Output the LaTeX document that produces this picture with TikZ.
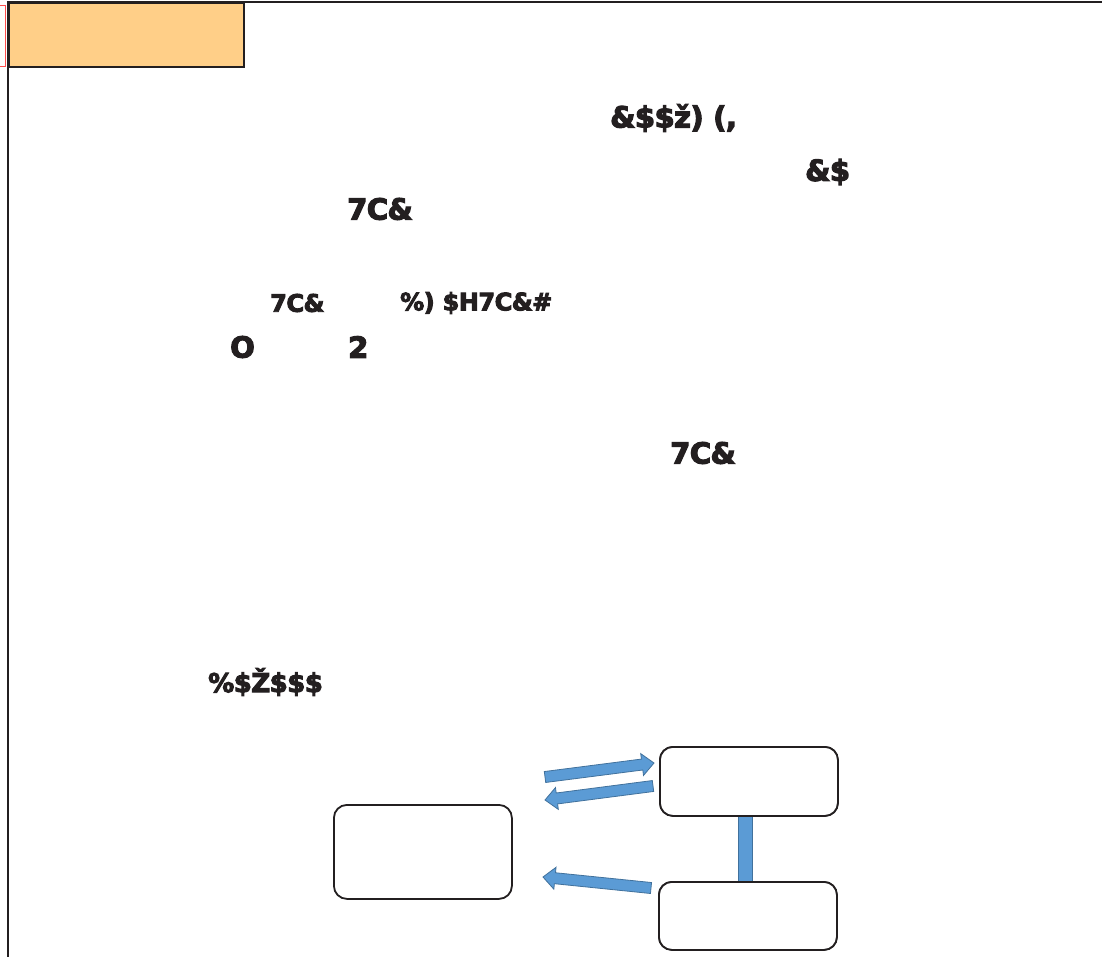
\documentclass[tikz,border=0pt]{standalone}
\usepackage{fontspec}
\newfontfamily\heavy[FakeBold=4,LetterSpace=-2]{DejaVu Sans Bold}
\usetikzlibrary{calc}
\definecolor{frameclr}{HTML}{231F20}
\definecolor{orangefill}{HTML}{FFCF88}
\definecolor{blkfillc}{HTML}{5B9BD5}
\definecolor{blkdraw}{HTML}{41719C}
\tikzset{
  frameline/.style={draw=frameclr, line width=2.4pt},
  roundbox/.style={draw=frameclr, line width=1.8pt, rounded corners=13pt, fill=white},
  blk/.style={fill=blkfillc, draw=blkdraw, line width=0.8pt},
  bigtxt/.style={font=\heavy\fontsize{29}{29}\selectfont, inner sep=0pt, anchor=west, text=frameclr},
  midtxt/.style={font=\heavy\fontsize{24}{24}\selectfont, inner sep=0pt, anchor=west, text=frameclr},
}
\newcommand\blockarrow[2]{%
  \coordinate (bah) at ($(#2)!12pt!(#1)$);
  \draw[blk] ($(#1)!5.5pt!90:(#2)$) -- ($(bah)!5.5pt!-90:(#1)$) -- ($(bah)!11pt!-90:(#1)$)
     -- (#2) -- ($(bah)!11pt!90:(#1)$) -- ($(bah)!5.5pt!90:(#1)$) -- ($(#1)!5.5pt!-90:(#2)$) -- cycle;
}
\begin{document}
\begin{tikzpicture}[x=1pt,y=-1pt]
\useasboundingbox (0,0) rectangle (1102,957);
\fill[white] (0,0) rectangle (1102,957);
% red thin marker at left
\draw[red!70, line width=0.8pt] (-2,5) -- (5,5) -- (5,66) -- (-2,66);
% frame
\draw[frameline] (8,960) -- (8,2) -- (1104,2);
\node[frameline, fill=orangefill, minimum width=235pt, minimum height=64pt, anchor=north west, inner sep=0pt] (title) at (8,2) {};
% texts
\node[bigtxt] (t1) at (610,118) {\&\$\$ž) (,};
\node[bigtxt] (t2) at (805,172) {\&\$};
\node[bigtxt] (t3) at (347,209) {7C\&};
\node[midtxt] (t4) at (270,303) {7C\&};
\node[midtxt] (t5) at (400,303) {\%) \$H7C\&\#};
\node[bigtxt] (t6) at (230,347) {O};
\node[bigtxt] (t7) at (348,347) {2};
\node[bigtxt] (t8) at (670,453) {7C\&};
\node[bigtxt, font=\heavy\fontsize{26}{26}\selectfont] (t9) at (208,682) {\%\$Ž\$\$\$};
% boxes
\node[roundbox, minimum width=178pt, minimum height=94pt, anchor=north west] (A) at (333,804) {};
\node[roundbox, minimum width=178pt, minimum height=69pt, anchor=north west] (B) at (659,746) {};
\node[roundbox, minimum width=178pt, minimum height=68pt, anchor=north west] (C) at (658,881) {};
% vertical bar
\draw[blk] ($(B.south)+(-11,0)$) rectangle ($(C.north)+(4,0)$);
\node[roundbox, minimum width=178pt, minimum height=69pt, anchor=north west] (B2) at (659,746) {};
\node[roundbox, minimum width=178pt, minimum height=68pt, anchor=north west] (C2) at (658,881) {};
% arrows
\coordinate (a1t) at (545,777);
\coordinate (a1p) at (654,763);
\coordinate (a2t) at (653,786);
\coordinate (a2p) at (545,800);
\coordinate (a3t) at (651,888);
\coordinate (a3p) at (543,877);
\blockarrow{a1t}{a1p}
\blockarrow{a2t}{a2p}
\blockarrow{a3t}{a3p}
\end{tikzpicture}
\end{document}
